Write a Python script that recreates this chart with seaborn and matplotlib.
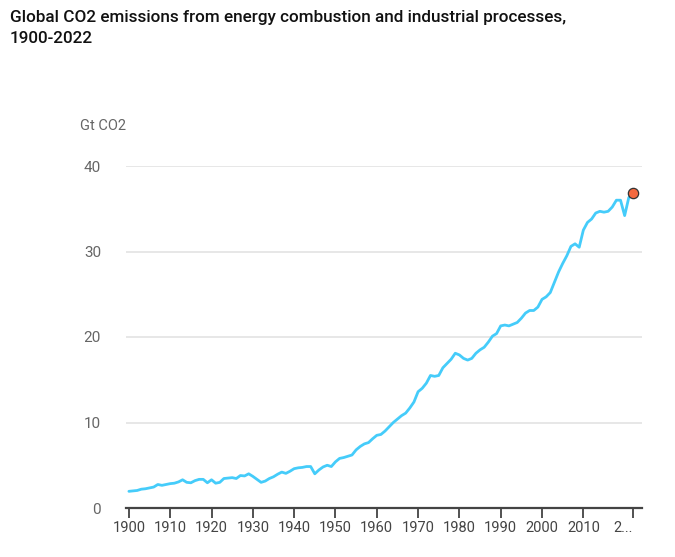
import matplotlib
matplotlib.use("Agg")
import matplotlib.pyplot as plt
import seaborn as sns
import pandas as pd

years = list(range(1900, 2023))
emissions = [
    1.95, 2.0, 2.05, 2.2, 2.25, 2.35, 2.45, 2.75, 2.65, 2.75,   # 1900s
    2.85, 2.9, 3.05, 3.3, 3.0, 2.95, 3.2, 3.35, 3.35, 2.95,     # 1910s
    3.3, 2.9, 3.0, 3.45, 3.5, 3.55, 3.45, 3.8, 3.75, 4.0,       # 1920s
    3.7, 3.35, 3.0, 3.15, 3.45, 3.65, 3.95, 4.2, 4.05, 4.3,     # 1930s
    4.6, 4.7, 4.75, 4.85, 4.85, 4.0, 4.45, 4.8, 5.0, 4.85,      # 1940s
    5.4, 5.8, 5.9, 6.05, 6.2, 6.8, 7.2, 7.5, 7.65, 8.1,         # 1950s
    8.5, 8.6, 9.0, 9.5, 10.0, 10.4, 10.8, 11.1, 11.7, 12.4,     # 1960s
    13.6, 14.0, 14.6, 15.5, 15.4, 15.5, 16.4, 16.9, 17.4, 18.1, # 1970s
    17.9, 17.5, 17.3, 17.5, 18.1, 18.5, 18.8, 19.4, 20.1, 20.4, # 1980s
    21.3, 21.4, 21.3, 21.5, 21.7, 22.2, 22.8, 23.1, 23.1, 23.5, # 1990s
    24.4, 24.7, 25.2, 26.4, 27.6, 28.6, 29.5, 30.6, 30.9, 30.5, # 2000s
    32.5, 33.4, 33.8, 34.5, 34.7, 34.6, 34.7, 35.2, 36.0, 36.0, # 2010s
    34.2, 36.3, 36.8,                                           # 2020s
]
x_ticks = [1900, 1910, 1920, 1930, 1940, 1950, 1960, 1970, 1980, 1990, 2000, 2010, 2022]
x_labels = ["1900", "1910", "1920", "1930", "1940", "1950", "1960", "1970",
            "1980", "1990", "2000", "2010", "2..."]
y_ticks = [0, 10, 20, 30, 40]

df = pd.DataFrame({"year": years, "co2": emissions})

sns.set_style("white")
plt.rcParams["font.family"] = ["Roboto", "DejaVu Sans"]

fig = plt.figure(figsize=(6.75, 5.57), dpi=100)
ax = fig.add_axes([126 / 675, 49 / 557, 516 / 675, 342 / 557])

sns.lineplot(data=df, x="year", y="co2", ax=ax, color="#45ccfa", linewidth=2.0)
last = df.iloc[[-1]]
sns.scatterplot(data=last, x="year", y="co2", ax=ax, color="#f4693f",
                edgecolor="#333333", linewidth=0.9, s=55, zorder=5, clip_on=False)

ax.set_xlim(1899.3, 2024.2)
ax.set_ylim(0, 40)
ax.set_xticks(x_ticks)
ax.set_xticklabels(x_labels)
ax.set_yticks(y_ticks)
ax.set_xlabel("")
ax.set_ylabel("")

for y in y_ticks[1:]:
    ax.axhline(y, color="#e3e3e3", linewidth=1.2, zorder=0)

for s in ["top", "right", "left"]:
    ax.spines[s].set_visible(False)
ax.spines["bottom"].set_color("#444444")
ax.spines["bottom"].set_linewidth(1.6)
ax.tick_params(axis="x", length=7, width=1.2, color="#333333", labelsize=10.5,
               labelcolor="#444444", pad=2, bottom=True)
ax.tick_params(axis="y", length=0, labelsize=11, labelcolor="#666666", pad=18)
# last label sits a little left of its tick, as in the source
ax.get_xticklabels()[-1].set_horizontalalignment("right")
ax.get_xticklabels()[-1].set_x(2024.0)

fig.text(80 / 675, 1 - 126 / 557, "Gt CO2", fontsize=10.5, color="#666666",
         va="center", ha="left")
fig.text(10 / 675, 1 - 28 / 557,
         "Global CO2 emissions from energy combustion and industrial processes,\n1900-2022",
         fontsize=12.3, color="#111111", va="center", ha="left", linespacing=1.45,
         fontweight="medium")

fig.savefig("out.png", dpi=100)
